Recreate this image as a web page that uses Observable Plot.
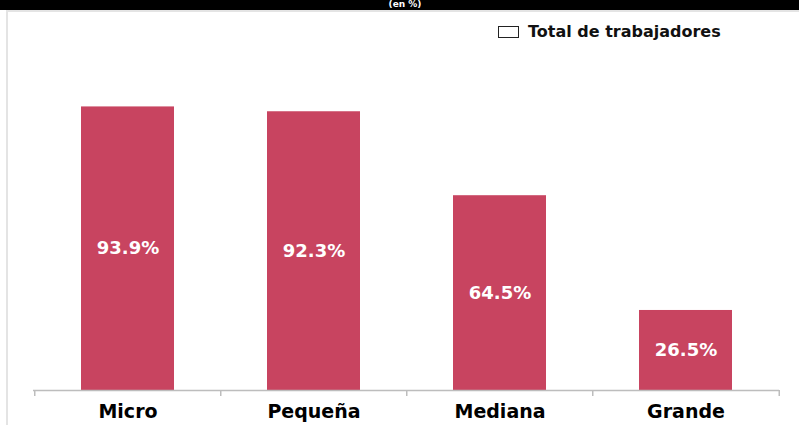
<!DOCTYPE html>
<html>
<head>
<meta charset="utf-8">
<script src="https://cdn.jsdelivr.net/npm/d3@7"></script>
<script src="https://cdn.jsdelivr.net/npm/@observablehq/plot@0.6"></script>
<style>
  html, body { margin: 0; padding: 0; background: #fff; }
  #wrap { position: relative; width: 799px; height: 425px; overflow: hidden; font-family: "DejaVu Sans", sans-serif; }
  #band { position: absolute; left: 0; top: 0; width: 799px; height: 10px; background: #000; overflow: hidden; }
  #band span { position: absolute; left: 0; width: 810px; text-align: center; top: -1px; line-height: 10px; color: #fff; font-weight: bold; font-size: 9px; }
  #frameTop { position: absolute; left: 7px; top: 10px; width: 792px; height: 2px; background: #e4e4e4; }
  #frameLeft { position: absolute; left: 6px; top: 10px; width: 2px; height: 415px; background: #e4e4e4; }
  #chart { position: absolute; left: 0; top: 10px; }
  #legend { position: absolute; left: 498px; top: 22px; font-weight: bold; font-size: 16px; color: #111; display: flex; align-items: center; }
  #legend .sw { width: 21px; height: 12px; border: 1.5px solid #222; margin-right: 9px; box-sizing: border-box; }
</style>
</head>
<body>
<div id="wrap">
  <div id="band"><span>(en %)</span></div>
  <div id="frameTop"></div>
  <div id="frameLeft"></div>
  <div id="chart"></div>
  <div id="legend"><div class="sw"></div><span>Total de trabajadores</span></div>
</div>
<script>
const categories = ["Micro", "Pequeña", "Mediana", "Grande"];
const values = [93.9, 92.3, 64.5, 26.5];
const seriesName = "Total de trabajadores";

const data = categories.map((c, i) => ({category: c, value: values[i]}));

const W = 799, H = 415, mL = 33, mR = 20;
const step = (W - mL - mR) / categories.length;

const chart = Plot.plot({
  width: W,
  height: H,
  marginLeft: mL,
  marginRight: mR,
  marginTop: 78,
  marginBottom: 35,
  style: {background: "transparent", fontFamily: "DejaVu Sans, sans-serif", overflow: "visible"},
  x: {domain: categories, paddingInner: 0.5, paddingOuter: 0.25, label: null},
  y: {domain: [0, 100], axis: null},
  marks: [
    Plot.barY(data, {x: "category", y: "value", fill: "#C84460"}),
    Plot.text(data, {
      x: "category",
      y: d => d.value / 2,
      text: d => d.value.toFixed(1) + "%",
      fill: "white",
      fontSize: 18,
      fontWeight: "bold"
    }),
    Plot.ruleY([0], {stroke: "#bdbdbd", strokeWidth: 1.5}),
    Plot.ruleX(categories, {x: d => d, dx: -step / 2, y1: 0, y2: 0, insetBottom: -6, stroke: "#bdbdbd", strokeWidth: 1.5}),
    Plot.ruleX(categories.slice(-1), {x: d => d, dx: step / 2, y1: 0, y2: 0, insetBottom: -6, stroke: "#bdbdbd", strokeWidth: 1.5}),
    Plot.axisX({tickSize: 0, tickPadding: 14, fontSize: 19, fontWeight: "bold", fill: "#000", label: null})
  ]
});
document.getElementById("chart").appendChild(chart);
</script>
</body>
</html>
